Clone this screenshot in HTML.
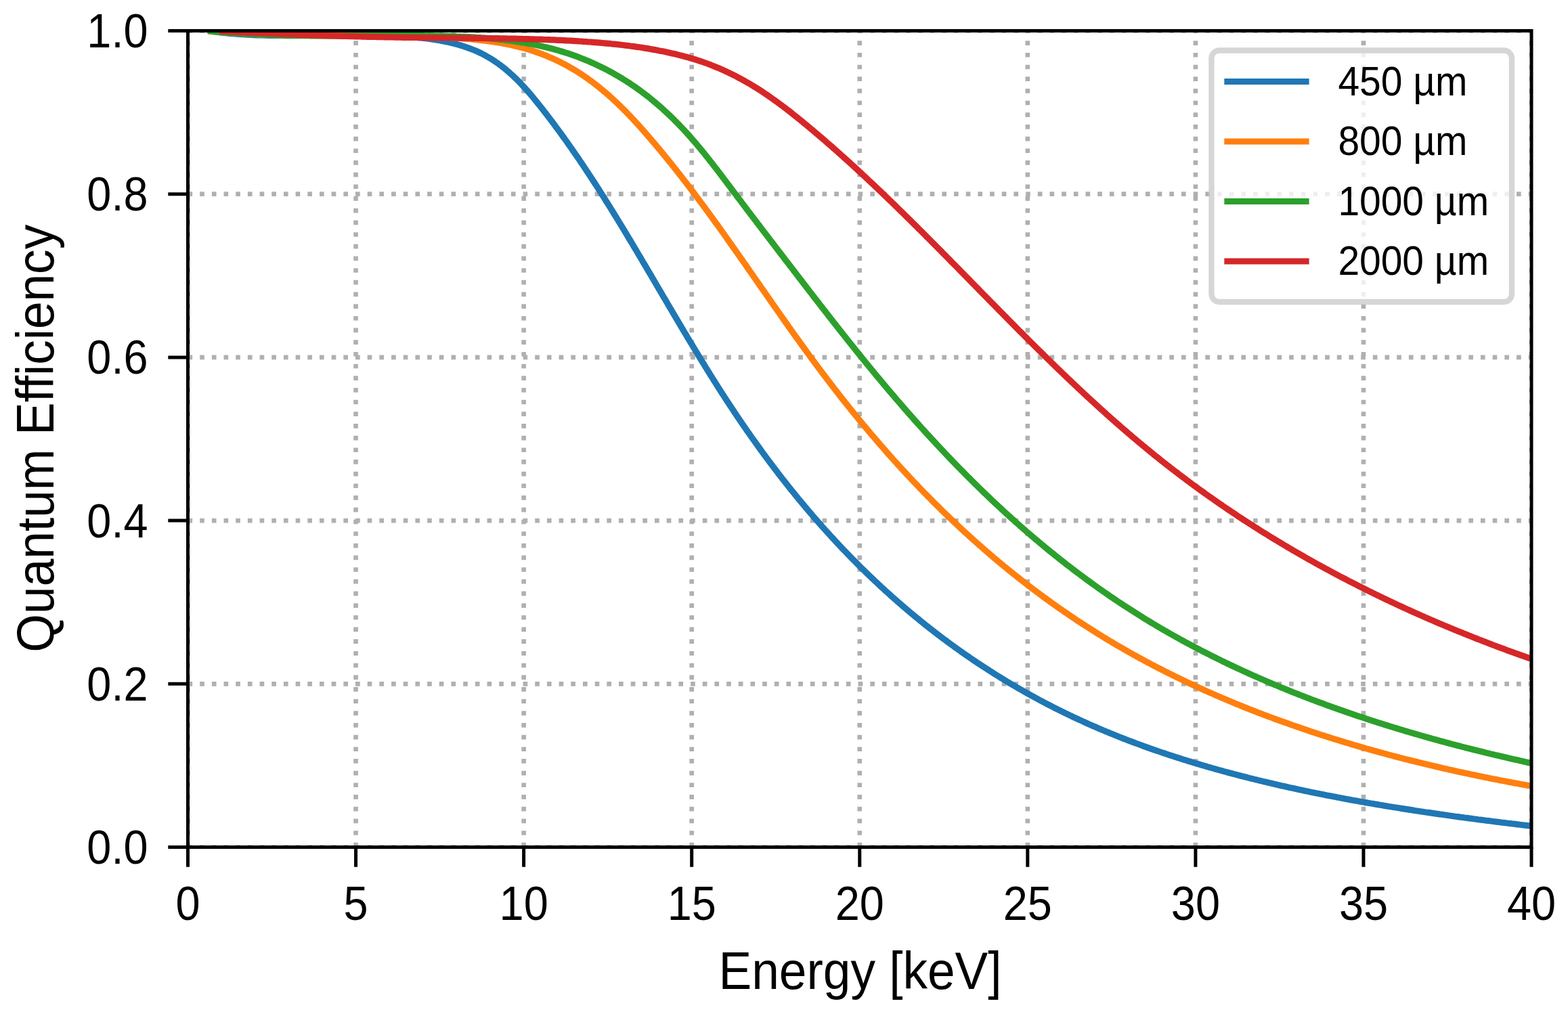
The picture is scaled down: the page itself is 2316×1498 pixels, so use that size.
<!DOCTYPE html><html><head><meta charset="utf-8"><title>Quantum Efficiency</title><style>html,body{margin:0;padding:0;background:#fff;overflow:hidden}svg{display:block}text{font-family:'Liberation Sans', Arial, Helvetica, sans-serif;fill:#000}</style></head><body>
<svg xmlns="http://www.w3.org/2000/svg" width="2316" height="1498" viewBox="0 0 2316 1498">
<rect x="0" y="0" width="2316" height="1498" fill="#fff"/>
<defs><clipPath id="ax"><rect x="277.5" y="45.5" width="1984.5" height="1206.0"/></clipPath></defs>
<g clip-path="url(#ax)"><path d="M277.50 1251.50V45.50M525.56 1251.50V45.50M773.62 1251.50V45.50M1021.69 1251.50V45.50M1269.75 1251.50V45.50M1517.81 1251.50V45.50M1765.88 1251.50V45.50M2013.94 1251.50V45.50M2262.00 1251.50V45.50M277.50 1251.50H2262.00M277.50 1010.30H2262.00M277.50 769.10H2262.00M277.50 527.90H2262.00M277.50 286.70H2262.00M277.50 45.50H2262.00" fill="none" stroke="#b0b0b0" stroke-width="6.67" stroke-dasharray="6.67 11.01"/></g>
<g clip-path="url(#ax)" fill="none" stroke-width="9.20" stroke-linecap="square" stroke-linejoin="round">
<path d="M311.6 46.1L315.0 46.6L318.3 47.0L321.7 47.5L325.1 47.9L328.5 48.3L332.0 48.6L335.4 49.0L338.9 49.3L342.4 49.6L346.0 49.9L349.5 50.2L353.1 50.5L356.7 50.7L360.3 50.9L363.9 51.1L367.5 51.3L371.2 51.5L374.8 51.6L378.5 51.8L382.2 51.9L385.9 52.0L389.6 52.1L393.3 52.2L397.1 52.3L400.8 52.4L404.6 52.4L408.4 52.5L412.1 52.5L415.9 52.5L419.7 52.6L423.5 52.6L427.3 52.6L431.2 52.6L435.0 52.6L438.8 52.6L442.7 52.5L446.5 52.5L450.4 52.5L454.2 52.5L458.1 52.4L461.9 52.4L465.8 52.4L469.6 52.3L473.5 52.3L477.4 52.2L481.2 52.2L485.1 52.1L488.9 52.1L492.8 52.1L496.6 52.0L500.5 52.0L504.3 52.0L508.2 52.0L512.0 51.9L515.9 51.9L519.7 51.9L523.5 51.9L527.3 51.9L531.1 51.9L534.9 51.9L538.7 52.0L542.5 52.0L546.3 52.0L550.1 52.1L553.8 52.2L557.6 52.2L561.3 52.3L565.0 52.4L568.7 52.5L572.4 52.6L576.1 52.8L579.8 52.9L583.4 53.1L587.1 53.3L590.7 53.5L594.3 53.7L597.9 53.9L601.5 54.2L605.0 54.4L608.6 54.7L612.1 55.0L615.6 55.3L619.0 55.7L622.5 56.0L625.9 56.4L629.3 56.8L632.7 57.3L636.1 57.7L639.4 58.2L642.7 58.7L646.0 59.3L649.3 59.8L652.5 60.4L655.7 61.0L658.9 61.7L662.0 62.3L665.2 63.0L668.3 63.8L671.3 64.5L674.3 65.3L677.3 66.1L680.3 67.0L683.2 67.9L686.1 68.8L689.0 69.8L691.8 70.8L694.6 71.8L697.3 72.9L700.1 74.0L702.7 75.1L705.4 76.3L708.0 77.5L710.6 78.7L713.1 80.0L715.6 81.3L718.1 82.7L720.5 84.1L722.9 85.5L725.3 86.9L727.6 88.4L729.9 89.9L732.2 91.5L734.5 93.0L736.7 94.6L738.9 96.2L741.1 97.9L743.2 99.5L745.4 101.2L747.5 103.0L749.5 104.7L751.6 106.5L753.6 108.3L755.6 110.1L757.6 111.9L759.6 113.8L761.5 115.6L763.5 117.5L765.4 119.4L767.3 121.4L769.1 123.3L771.0 125.3L772.8 127.3L774.7 129.2L776.5 131.3L778.3 133.3L780.0 135.3L781.8 137.4L783.6 139.4L785.3 141.5L787.1 143.6L788.8 145.7L790.5 147.7L792.2 149.9L793.9 152.0L795.6 154.1L797.3 156.2L799.0 158.4L800.7 160.5L802.4 162.6L804.0 164.8L805.7 166.9L807.4 169.1L809.0 171.3L810.7 173.4L812.3 175.6L814.0 177.8L815.6 179.9L817.3 182.1L818.9 184.3L820.5 186.5L822.1 188.7L823.8 190.9L825.4 193.1L827.0 195.3L828.6 197.5L830.2 199.7L831.8 202.0L833.4 204.2L835.0 206.4L836.6 208.6L838.2 210.9L839.7 213.1L841.3 215.4L842.9 217.6L844.5 219.9L846.0 222.1L847.6 224.4L849.1 226.6L850.7 228.9L852.3 231.2L853.8 233.4L855.4 235.7L856.9 238.0L858.4 240.3L860.0 242.5L861.5 244.8L863.0 247.1L864.6 249.4L866.1 251.7L867.6 254.0L869.1 256.3L870.6 258.6L872.2 260.9L873.7 263.2L875.2 265.5L876.7 267.8L878.2 270.2L879.7 272.5L881.2 274.8L882.7 277.1L884.2 279.5L885.7 281.8L887.1 284.1L888.6 286.5L890.1 288.8L891.6 291.1L893.1 293.5L894.5 295.8L896.0 298.2L897.5 300.5L899.0 302.9L900.4 305.2L901.9 307.6L903.3 309.9L904.8 312.3L906.3 314.7L907.7 317.0L909.2 319.4L910.6 321.7L912.1 324.1L913.5 326.5L915.0 328.9L916.4 331.2L917.9 333.6L919.3 336.0L920.8 338.4L922.2 340.7L923.6 343.1L925.1 345.5L926.5 347.9L927.9 350.3L929.4 352.7L930.8 355.0L932.2 357.4L933.7 359.8L935.1 362.2L936.5 364.6L937.9 367.0L939.4 369.4L940.8 371.8L942.2 374.2L943.6 376.6L945.1 379.0L946.5 381.4L947.9 383.8L949.3 386.2L950.7 388.6L952.2 391.0L953.6 393.4L955.0 395.8L956.4 398.2L957.8 400.6L959.2 403.0L960.7 405.4L962.1 407.8L963.5 410.2L964.9 412.6L966.3 415.0L967.7 417.4L969.1 419.8L970.6 422.3L972.0 424.7L973.4 427.1L974.8 429.5L976.2 431.9L977.6 434.3L979.0 436.7L980.4 439.1L981.9 441.5L983.3 443.9L984.7 446.3L986.1 448.7L987.5 451.1L988.9 453.5L990.3 455.9L991.8 458.3L993.2 460.7L994.6 463.1L996.0 465.5L997.4 467.9L998.8 470.3L1000.3 472.7L1001.7 475.1L1003.1 477.5L1004.5 479.9L1005.9 482.3L1007.4 484.7L1008.8 487.1L1010.2 489.5L1011.6 491.9L1013.1 494.3L1014.5 496.7L1015.9 499.1L1017.4 501.5L1018.8 503.9L1020.2 506.3L1021.7 508.6L1023.1 511.0L1024.5 513.4L1026.0 515.8L1027.4 518.2L1028.9 520.5L1030.3 522.9L1031.7 525.3L1033.2 527.7L1034.6 530.0L1036.1 532.4L1037.5 534.8L1039.0 537.1L1040.5 539.5L1041.9 541.9L1043.4 544.2L1044.8 546.6L1046.3 548.9L1047.8 551.3L1049.2 553.7L1050.7 556.0L1052.2 558.4L1053.6 560.7L1055.1 563.0L1056.6 565.4L1058.1 567.7L1059.6 570.1L1061.0 572.4L1062.5 574.7L1064.0 577.1L1065.5 579.4L1067.0 581.7L1068.5 584.0L1070.0 586.4L1071.5 588.7L1073.0 591.0L1074.5 593.3L1076.0 595.6L1077.5 597.9L1079.1 600.2L1080.6 602.5L1082.1 604.8L1083.6 607.1L1085.1 609.4L1086.7 611.7L1088.2 614.0L1089.7 616.3L1091.3 618.5L1092.8 620.8L1094.4 623.1L1095.9 625.4L1097.5 627.6L1099.0 629.9L1100.6 632.1L1102.2 634.4L1103.7 636.7L1105.3 638.9L1106.9 641.2L1108.4 643.4L1110.0 645.6L1111.6 647.9L1113.2 650.1L1114.8 652.3L1116.4 654.6L1118.0 656.8L1119.6 659.0L1121.2 661.2L1122.8 663.5L1124.4 665.7L1126.0 667.9L1127.6 670.1L1129.2 672.3L1130.8 674.5L1132.5 676.7L1134.1 678.9L1135.7 681.1L1137.3 683.2L1139.0 685.4L1140.6 687.6L1142.3 689.8L1143.9 692.0L1145.6 694.1L1147.2 696.3L1148.9 698.5L1150.5 700.6L1152.2 702.8L1153.9 704.9L1155.5 707.1L1157.2 709.2L1158.9 711.3L1160.6 713.5L1162.3 715.6L1164.0 717.8L1165.6 719.9L1167.3 722.0L1169.0 724.1L1170.7 726.2L1172.5 728.3L1174.2 730.5L1175.9 732.6L1177.6 734.7L1179.3 736.8L1181.0 738.9L1182.8 740.9L1184.5 743.0L1186.2 745.1L1188.0 747.2L1189.7 749.3L1191.5 751.3L1193.2 753.4L1195.0 755.5L1196.7 757.5L1198.5 759.6L1200.3 761.7L1202.0 763.7L1203.8 765.8L1205.6 767.8L1207.4 769.8L1209.1 771.9L1210.9 773.9L1212.7 775.9L1214.5 778.0L1216.3 780.0L1218.1 782.0L1219.9 784.0L1221.7 786.0L1223.6 788.0L1225.4 790.0L1227.2 792.0L1229.0 794.0L1230.9 796.0L1232.7 798.0L1234.5 800.0L1236.4 801.9L1238.2 803.9L1240.1 805.9L1241.9 807.8L1243.8 809.8L1245.6 811.8L1247.5 813.7L1249.4 815.7L1251.2 817.6L1253.1 819.6L1255.0 821.5L1256.9 823.4L1258.8 825.4L1260.7 827.3L1262.6 829.2L1264.5 831.1L1266.4 833.0L1268.3 834.9L1270.2 836.9L1272.1 838.8L1274.0 840.6L1276.0 842.5L1277.9 844.4L1279.8 846.3L1281.8 848.2L1283.7 850.1L1285.7 851.9L1287.6 853.8L1289.6 855.7L1291.5 857.5L1293.5 859.4L1295.5 861.2L1297.4 863.1L1299.4 864.9L1301.4 866.8L1303.4 868.6L1305.4 870.4L1307.4 872.3L1309.4 874.1L1311.4 875.9L1313.4 877.7L1315.4 879.5L1317.4 881.3L1319.4 883.1L1321.5 884.9L1323.5 886.7L1325.5 888.5L1327.6 890.3L1329.6 892.0L1331.7 893.8L1333.7 895.6L1335.8 897.3L1337.8 899.1L1339.9 900.9L1342.0 902.6L1344.0 904.4L1346.1 906.1L1348.2 907.8L1350.3 909.6L1352.4 911.3L1354.5 913.0L1356.6 914.7L1358.7 916.4L1360.8 918.2L1362.9 919.9L1365.0 921.6L1367.1 923.3L1369.3 925.0L1371.4 926.6L1373.5 928.3L1375.7 930.0L1377.8 931.7L1380.0 933.3L1382.1 935.0L1384.3 936.7L1386.5 938.3L1388.6 940.0L1390.8 941.6L1393.0 943.3L1395.2 944.9L1397.4 946.5L1399.5 948.1L1401.7 949.8L1403.9 951.4L1406.2 953.0L1408.4 954.6L1410.6 956.2L1412.8 957.8L1415.0 959.4L1417.3 961.0L1419.5 962.6L1421.7 964.1L1424.0 965.7L1426.2 967.3L1428.5 968.8L1430.8 970.4L1433.0 972.0L1435.3 973.5L1437.6 975.1L1439.9 976.6L1442.1 978.1L1444.4 979.7L1446.7 981.2L1449.0 982.7L1451.3 984.2L1453.6 985.7L1456.0 987.2L1458.3 988.7L1460.6 990.2L1462.9 991.7L1465.3 993.2L1467.6 994.7L1469.9 996.1L1472.3 997.6L1474.7 999.1L1477.0 1000.5L1479.4 1002.0L1481.8 1003.4L1484.1 1004.9L1486.5 1006.3L1488.9 1007.8L1491.3 1009.2L1493.7 1010.6L1496.1 1012.0L1498.5 1013.4L1500.9 1014.9L1503.3 1016.3L1505.7 1017.7L1508.2 1019.0L1510.6 1020.4L1513.0 1021.8L1515.5 1023.2L1517.9 1024.6L1520.4 1025.9L1522.8 1027.3L1525.3 1028.6L1527.8 1030.0L1530.2 1031.3L1532.7 1032.7L1535.2 1034.0L1537.7 1035.3L1540.2 1036.7L1542.7 1038.0L1545.2 1039.3L1547.7 1040.6L1550.2 1041.9L1552.8 1043.2L1555.3 1044.5L1557.8 1045.8L1560.4 1047.1L1562.9 1048.3L1565.5 1049.6L1568.0 1050.9L1570.6 1052.1L1573.1 1053.4L1575.7 1054.6L1578.3 1055.9L1580.9 1057.1L1583.5 1058.3L1586.0 1059.6L1588.6 1060.8L1591.3 1062.0L1593.9 1063.2L1596.5 1064.4L1599.1 1065.6L1601.7 1066.8L1604.4 1068.0L1607.0 1069.2L1609.6 1070.4L1612.3 1071.5L1614.9 1072.7L1617.6 1073.8L1620.3 1075.0L1622.9 1076.2L1625.6 1077.3L1628.3 1078.4L1631.0 1079.6L1633.7 1080.7L1636.4 1081.8L1639.1 1082.9L1641.8 1084.0L1644.5 1085.1L1647.2 1086.2L1650.0 1087.3L1652.7 1088.4L1655.4 1089.5L1658.2 1090.6L1660.9 1091.6L1663.7 1092.7L1666.4 1093.8L1669.2 1094.8L1672.0 1095.9L1674.7 1096.9L1677.5 1098.0L1680.3 1099.0L1683.1 1100.0L1685.9 1101.0L1688.7 1102.1L1691.5 1103.1L1694.3 1104.1L1697.1 1105.1L1700.0 1106.1L1702.8 1107.1L1705.6 1108.1L1708.5 1109.0L1711.3 1110.0L1714.1 1111.0L1717.0 1112.0L1719.9 1112.9L1722.7 1113.9L1725.6 1114.8L1728.5 1115.8L1731.3 1116.7L1734.2 1117.7L1737.1 1118.6L1740.0 1119.5L1742.9 1120.4L1745.8 1121.4L1748.7 1122.3L1751.6 1123.2L1754.5 1124.1L1757.4 1125.0L1760.4 1125.9L1763.3 1126.8L1766.2 1127.7L1769.2 1128.5L1772.1 1129.4L1775.1 1130.3L1778.0 1131.1L1781.0 1132.0L1783.9 1132.9L1786.9 1133.7L1789.9 1134.6L1792.9 1135.4L1795.8 1136.3L1798.8 1137.1L1801.8 1137.9L1804.8 1138.7L1807.8 1139.6L1810.8 1140.4L1813.8 1141.2L1816.8 1142.0L1819.8 1142.8L1822.9 1143.6L1825.9 1144.4L1828.9 1145.2L1831.9 1146.0L1835.0 1146.8L1838.0 1147.5L1841.1 1148.3L1844.1 1149.1L1847.2 1149.9L1850.2 1150.6L1853.3 1151.4L1856.3 1152.1L1859.4 1152.9L1862.5 1153.6L1865.6 1154.4L1868.6 1155.1L1871.7 1155.8L1874.8 1156.6L1877.9 1157.3L1881.0 1158.0L1884.1 1158.7L1887.2 1159.5L1890.3 1160.2L1893.4 1160.9L1896.6 1161.6L1899.7 1162.3L1902.8 1163.0L1905.9 1163.7L1909.1 1164.3L1912.2 1165.0L1915.3 1165.7L1918.5 1166.4L1921.6 1167.1L1924.8 1167.7L1927.9 1168.4L1931.1 1169.1L1934.2 1169.7L1937.4 1170.4L1940.6 1171.0L1943.8 1171.7L1946.9 1172.3L1950.1 1173.0L1953.3 1173.6L1956.5 1174.2L1959.7 1174.9L1962.9 1175.5L1966.1 1176.1L1969.3 1176.7L1972.5 1177.3L1975.7 1178.0L1978.9 1178.6L1982.1 1179.2L1985.3 1179.8L1988.5 1180.4L1991.7 1181.0L1995.0 1181.6L1998.2 1182.2L2001.4 1182.7L2004.7 1183.3L2007.9 1183.9L2011.2 1184.5L2014.4 1185.1L2017.6 1185.6L2020.9 1186.2L2024.1 1186.8L2027.4 1187.3L2030.7 1187.9L2033.9 1188.4L2037.2 1189.0L2040.5 1189.5L2043.7 1190.1L2047.0 1190.6L2050.3 1191.2L2053.6 1191.7L2056.9 1192.2L2060.1 1192.8L2063.4 1193.3L2066.7 1193.8L2070.0 1194.4L2073.3 1194.9L2076.6 1195.4L2079.9 1195.9L2083.2 1196.4L2086.5 1196.9L2089.9 1197.5L2093.2 1198.0L2096.5 1198.5L2099.8 1199.0L2103.1 1199.5L2106.4 1200.0L2109.8 1200.4L2113.1 1200.9L2116.4 1201.4L2119.8 1201.9L2123.1 1202.4L2126.4 1202.9L2129.8 1203.3L2133.1 1203.8L2136.5 1204.3L2139.8 1204.8L2143.2 1205.2L2146.5 1205.7L2149.9 1206.2L2153.3 1206.6L2156.6 1207.1L2160.0 1207.5L2163.3 1208.0L2166.7 1208.4L2170.1 1208.9L2173.5 1209.3L2176.8 1209.8L2180.2 1210.2L2183.6 1210.7L2187.0 1211.1L2190.3 1211.5L2193.7 1212.0L2197.1 1212.4L2200.5 1212.8L2203.9 1213.3L2207.3 1213.7L2210.7 1214.1L2214.1 1214.5L2217.5 1215.0L2220.9 1215.4L2224.3 1215.8L2227.7 1216.2L2231.1 1216.6L2234.5 1217.0L2237.9 1217.4L2241.3 1217.9L2244.7 1218.3L2248.2 1218.7L2251.6 1219.1L2255.0 1219.5L2258.4 1219.9L2261.8 1220.3" stroke="#1f77b4"/>
<path d="M311.6 46.1L315.1 46.4L318.6 46.8L322.2 47.1L325.7 47.4L329.3 47.7L332.9 47.9L336.5 48.2L340.1 48.5L343.7 48.7L347.3 48.9L350.9 49.2L354.6 49.4L358.2 49.6L361.9 49.8L365.6 50.0L369.2 50.2L372.9 50.3L376.6 50.5L380.3 50.7L384.0 50.8L387.7 51.0L391.5 51.1L395.2 51.2L398.9 51.3L402.7 51.4L406.4 51.5L410.2 51.6L413.9 51.7L417.7 51.8L421.5 51.9L425.3 52.0L429.0 52.1L432.8 52.1L436.6 52.2L440.4 52.2L444.2 52.3L448.0 52.3L451.8 52.4L455.7 52.4L459.5 52.5L463.3 52.5L467.1 52.5L471.0 52.6L474.8 52.6L478.6 52.6L482.4 52.6L486.3 52.7L490.1 52.7L494.0 52.7L497.8 52.7L501.6 52.7L505.5 52.7L509.3 52.8L513.2 52.8L517.0 52.8L520.9 52.8L524.7 52.8L528.5 52.8L532.4 52.8L536.2 52.9L540.1 52.9L543.9 52.9L547.7 52.9L551.6 52.9L555.4 53.0L559.2 53.0L563.1 53.0L566.9 53.0L570.7 53.1L574.5 53.1L578.4 53.1L582.2 53.2L586.0 53.2L589.8 53.3L593.6 53.3L597.4 53.4L601.2 53.5L605.0 53.5L608.7 53.6L612.5 53.7L616.3 53.8L620.1 53.9L623.8 54.0L627.6 54.1L631.3 54.2L635.0 54.3L638.8 54.4L642.5 54.6L646.2 54.7L649.9 54.9L653.6 55.0L657.3 55.2L660.9 55.4L664.6 55.6L668.2 55.8L671.9 56.0L675.5 56.3L679.1 56.5L682.7 56.8L686.3 57.1L689.8 57.4L693.4 57.7L696.9 58.0L700.4 58.3L703.9 58.7L707.4 59.1L710.9 59.4L714.3 59.9L717.8 60.3L721.2 60.7L724.6 61.2L727.9 61.7L731.3 62.2L734.6 62.7L737.9 63.3L741.2 63.8L744.5 64.4L747.7 65.0L750.9 65.7L754.1 66.3L757.3 67.0L760.4 67.7L763.6 68.5L766.6 69.2L769.7 70.0L772.8 70.8L775.8 71.7L778.8 72.5L781.7 73.4L784.7 74.4L787.6 75.3L790.5 76.3L793.3 77.3L796.2 78.3L799.0 79.3L801.8 80.4L804.6 81.5L807.3 82.6L810.0 83.7L812.7 84.9L815.4 86.0L818.1 87.2L820.7 88.5L823.3 89.7L825.9 91.0L828.5 92.2L831.0 93.6L833.6 94.9L836.1 96.2L838.6 97.6L841.0 99.0L843.5 100.4L845.9 101.8L848.3 103.2L850.7 104.7L853.1 106.2L855.5 107.7L857.8 109.2L860.1 110.7L862.4 112.3L864.7 113.9L867.0 115.4L869.2 117.0L871.5 118.7L873.7 120.3L875.9 121.9L878.1 123.6L880.3 125.3L882.4 127.0L884.6 128.7L886.7 130.4L888.8 132.2L890.9 133.9L893.0 135.7L895.1 137.4L897.2 139.2L899.2 141.0L901.3 142.9L903.3 144.7L905.3 146.5L907.3 148.4L909.3 150.2L911.3 152.1L913.3 154.0L915.2 155.9L917.2 157.8L919.1 159.7L921.0 161.7L923.0 163.6L924.9 165.5L926.8 167.5L928.7 169.4L930.6 171.4L932.4 173.4L934.3 175.4L936.2 177.4L938.0 179.4L939.9 181.4L941.7 183.4L943.5 185.4L945.4 187.5L947.2 189.5L949.0 191.5L950.8 193.6L952.6 195.6L954.4 197.7L956.2 199.8L958.0 201.8L959.8 203.9L961.6 206.0L963.3 208.1L965.1 210.1L966.9 212.2L968.6 214.3L970.4 216.4L972.2 218.5L973.9 220.6L975.7 222.7L977.4 224.8L979.2 226.9L980.9 229.1L982.6 231.2L984.4 233.3L986.1 235.4L987.8 237.6L989.5 239.7L991.3 241.8L993.0 244.0L994.7 246.1L996.4 248.3L998.1 250.4L999.8 252.6L1001.5 254.7L1003.2 256.9L1004.9 259.1L1006.6 261.2L1008.2 263.4L1009.9 265.6L1011.6 267.8L1013.3 269.9L1015.0 272.1L1016.6 274.3L1018.3 276.5L1020.0 278.7L1021.6 280.9L1023.3 283.1L1025.0 285.3L1026.6 287.5L1028.3 289.7L1029.9 291.9L1031.6 294.1L1033.2 296.3L1034.8 298.5L1036.5 300.7L1038.1 302.9L1039.8 305.2L1041.4 307.4L1043.0 309.6L1044.7 311.8L1046.3 314.1L1047.9 316.3L1049.5 318.5L1051.2 320.8L1052.8 323.0L1054.4 325.2L1056.0 327.5L1057.6 329.7L1059.3 331.9L1060.9 334.2L1062.5 336.4L1064.1 338.7L1065.7 340.9L1067.3 343.2L1068.9 345.4L1070.5 347.7L1072.1 349.9L1073.7 352.2L1075.3 354.5L1076.9 356.7L1078.5 359.0L1080.1 361.2L1081.7 363.5L1083.3 365.8L1084.9 368.0L1086.5 370.3L1088.1 372.5L1089.7 374.8L1091.2 377.1L1092.8 379.3L1094.4 381.6L1096.0 383.9L1097.6 386.2L1099.2 388.4L1100.8 390.7L1102.4 393.0L1103.9 395.2L1105.5 397.5L1107.1 399.8L1108.7 402.1L1110.3 404.3L1111.9 406.6L1113.4 408.9L1115.0 411.2L1116.6 413.4L1118.2 415.7L1119.8 418.0L1121.3 420.3L1122.9 422.5L1124.5 424.8L1126.1 427.1L1127.7 429.3L1129.3 431.6L1130.8 433.9L1132.4 436.2L1134.0 438.4L1135.6 440.7L1137.2 443.0L1138.8 445.3L1140.3 447.5L1141.9 449.8L1143.5 452.1L1145.1 454.3L1146.7 456.6L1148.3 458.9L1149.9 461.1L1151.5 463.4L1153.1 465.7L1154.6 467.9L1156.2 470.2L1157.8 472.5L1159.4 474.7L1161.0 477.0L1162.6 479.2L1164.2 481.5L1165.8 483.8L1167.4 486.0L1169.0 488.3L1170.6 490.5L1172.2 492.8L1173.8 495.0L1175.4 497.3L1177.0 499.5L1178.7 501.8L1180.3 504.0L1181.9 506.3L1183.5 508.5L1185.1 510.7L1186.7 513.0L1188.3 515.2L1190.0 517.5L1191.6 519.7L1193.2 521.9L1194.8 524.1L1196.5 526.4L1198.1 528.6L1199.7 530.8L1201.4 533.0L1203.0 535.3L1204.7 537.5L1206.3 539.7L1207.9 541.9L1209.6 544.1L1211.2 546.3L1212.9 548.5L1214.5 550.7L1216.2 552.9L1217.9 555.1L1219.5 557.3L1221.2 559.5L1222.8 561.7L1224.5 563.9L1226.2 566.1L1227.9 568.3L1229.5 570.4L1231.2 572.6L1232.9 574.8L1234.6 577.0L1236.3 579.1L1238.0 581.3L1239.7 583.5L1241.3 585.6L1243.0 587.8L1244.7 589.9L1246.4 592.1L1248.2 594.2L1249.9 596.4L1251.6 598.5L1253.3 600.7L1255.0 602.8L1256.7 605.0L1258.4 607.1L1260.2 609.2L1261.9 611.3L1263.6 613.5L1265.4 615.6L1267.1 617.7L1268.8 619.8L1270.6 622.0L1272.3 624.1L1274.1 626.2L1275.8 628.3L1277.6 630.4L1279.3 632.5L1281.1 634.6L1282.8 636.7L1284.6 638.8L1286.4 640.9L1288.1 642.9L1289.9 645.0L1291.7 647.1L1293.5 649.2L1295.3 651.3L1297.0 653.3L1298.8 655.4L1300.6 657.5L1302.4 659.5L1304.2 661.6L1306.0 663.7L1307.8 665.7L1309.6 667.8L1311.4 669.8L1313.2 671.8L1315.0 673.9L1316.9 675.9L1318.7 678.0L1320.5 680.0L1322.3 682.0L1324.2 684.1L1326.0 686.1L1327.8 688.1L1329.7 690.1L1331.5 692.1L1333.4 694.1L1335.2 696.1L1337.1 698.2L1338.9 700.2L1340.8 702.1L1342.6 704.1L1344.5 706.1L1346.4 708.1L1348.2 710.1L1350.1 712.1L1352.0 714.1L1353.9 716.0L1355.8 718.0L1357.6 720.0L1359.5 722.0L1361.4 723.9L1363.3 725.9L1365.2 727.8L1367.1 729.8L1369.0 731.7L1371.0 733.7L1372.9 735.6L1374.8 737.6L1376.7 739.5L1378.6 741.4L1380.6 743.4L1382.5 745.3L1384.4 747.2L1386.4 749.1L1388.3 751.0L1390.2 752.9L1392.2 754.9L1394.1 756.8L1396.1 758.7L1398.1 760.6L1400.0 762.4L1402.0 764.3L1404.0 766.2L1405.9 768.1L1407.9 770.0L1409.9 771.9L1411.9 773.7L1413.9 775.6L1415.9 777.5L1417.8 779.3L1419.8 781.2L1421.8 783.0L1423.8 784.9L1425.9 786.7L1427.9 788.6L1429.9 790.4L1431.9 792.3L1433.9 794.1L1436.0 795.9L1438.0 797.8L1440.0 799.6L1442.1 801.4L1444.1 803.2L1446.1 805.0L1448.2 806.8L1450.3 808.6L1452.3 810.4L1454.4 812.2L1456.4 814.0L1458.5 815.8L1460.6 817.6L1462.7 819.4L1464.7 821.1L1466.8 822.9L1468.9 824.7L1471.0 826.5L1473.1 828.2L1475.2 830.0L1477.3 831.7L1479.4 833.5L1481.5 835.2L1483.6 837.0L1485.7 838.7L1487.9 840.4L1490.0 842.2L1492.1 843.9L1494.3 845.6L1496.4 847.3L1498.5 849.0L1500.7 850.8L1502.8 852.5L1505.0 854.2L1507.1 855.9L1509.3 857.6L1511.5 859.2L1513.6 860.9L1515.8 862.6L1518.0 864.3L1520.2 866.0L1522.4 867.6L1524.6 869.3L1526.8 871.0L1529.0 872.6L1531.2 874.3L1533.4 875.9L1535.6 877.6L1537.8 879.2L1540.0 880.8L1542.2 882.5L1544.5 884.1L1546.7 885.7L1548.9 887.3L1551.2 889.0L1553.4 890.6L1555.7 892.2L1557.9 893.8L1560.2 895.4L1562.4 897.0L1564.7 898.6L1567.0 900.1L1569.3 901.7L1571.5 903.3L1573.8 904.9L1576.1 906.4L1578.4 908.0L1580.7 909.6L1583.0 911.1L1585.3 912.7L1587.6 914.2L1589.9 915.8L1592.2 917.3L1594.6 918.8L1596.9 920.4L1599.2 921.9L1601.6 923.4L1603.9 924.9L1606.3 926.4L1608.6 927.9L1611.0 929.4L1613.3 930.9L1615.7 932.4L1618.0 933.9L1620.4 935.4L1622.8 936.9L1625.2 938.4L1627.6 939.8L1630.0 941.3L1632.4 942.8L1634.8 944.2L1637.2 945.7L1639.6 947.1L1642.0 948.5L1644.4 950.0L1646.8 951.4L1649.2 952.9L1651.7 954.3L1654.1 955.7L1656.6 957.1L1659.0 958.5L1661.5 959.9L1663.9 961.3L1666.4 962.7L1668.8 964.1L1671.3 965.5L1673.8 966.9L1676.3 968.3L1678.7 969.6L1681.2 971.0L1683.7 972.4L1686.2 973.7L1688.7 975.1L1691.2 976.4L1693.7 977.8L1696.3 979.1L1698.8 980.5L1701.3 981.8L1703.8 983.1L1706.4 984.4L1708.9 985.8L1711.4 987.1L1714.0 988.4L1716.5 989.7L1719.1 991.0L1721.7 992.3L1724.2 993.6L1726.8 994.9L1729.4 996.1L1731.9 997.4L1734.5 998.7L1737.1 1000.0L1739.7 1001.2L1742.3 1002.5L1744.9 1003.7L1747.5 1005.0L1750.1 1006.2L1752.7 1007.5L1755.3 1008.7L1758.0 1010.0L1760.6 1011.2L1763.2 1012.4L1765.9 1013.6L1768.5 1014.8L1771.1 1016.1L1773.8 1017.3L1776.4 1018.5L1779.1 1019.7L1781.8 1020.9L1784.4 1022.1L1787.1 1023.2L1789.8 1024.4L1792.5 1025.6L1795.1 1026.8L1797.8 1027.9L1800.5 1029.1L1803.2 1030.3L1805.9 1031.4L1808.6 1032.6L1811.3 1033.7L1814.0 1034.9L1816.8 1036.0L1819.5 1037.1L1822.2 1038.3L1824.9 1039.4L1827.7 1040.5L1830.4 1041.6L1833.1 1042.8L1835.9 1043.9L1838.6 1045.0L1841.4 1046.1L1844.2 1047.2L1846.9 1048.3L1849.7 1049.3L1852.5 1050.4L1855.2 1051.5L1858.0 1052.6L1860.8 1053.7L1863.6 1054.7L1866.4 1055.8L1869.2 1056.8L1872.0 1057.9L1874.8 1059.0L1877.6 1060.0L1880.4 1061.0L1883.2 1062.1L1886.1 1063.1L1888.9 1064.1L1891.7 1065.2L1894.5 1066.2L1897.4 1067.2L1900.2 1068.2L1903.1 1069.2L1905.9 1070.2L1908.8 1071.3L1911.6 1072.2L1914.5 1073.2L1917.4 1074.2L1920.2 1075.2L1923.1 1076.2L1926.0 1077.2L1928.9 1078.2L1931.7 1079.1L1934.6 1080.1L1937.5 1081.1L1940.4 1082.0L1943.3 1083.0L1946.2 1083.9L1949.1 1084.9L1952.1 1085.8L1955.0 1086.7L1957.9 1087.7L1960.8 1088.6L1963.7 1089.5L1966.7 1090.5L1969.6 1091.4L1972.6 1092.3L1975.5 1093.2L1978.5 1094.1L1981.4 1095.0L1984.4 1095.9L1987.3 1096.8L1990.3 1097.7L1993.3 1098.6L1996.2 1099.5L1999.2 1100.4L2002.2 1101.2L2005.2 1102.1L2008.2 1103.0L2011.1 1103.8L2014.1 1104.7L2017.1 1105.6L2020.1 1106.4L2023.1 1107.3L2026.2 1108.1L2029.2 1109.0L2032.2 1109.8L2035.2 1110.6L2038.2 1111.5L2041.3 1112.3L2044.3 1113.1L2047.3 1113.9L2050.4 1114.8L2053.4 1115.6L2056.5 1116.4L2059.5 1117.2L2062.6 1118.0L2065.6 1118.8L2068.7 1119.6L2071.7 1120.4L2074.8 1121.2L2077.9 1121.9L2081.0 1122.7L2084.0 1123.5L2087.1 1124.3L2090.2 1125.0L2093.3 1125.8L2096.4 1126.6L2099.5 1127.3L2102.6 1128.1L2105.7 1128.8L2108.8 1129.6L2111.9 1130.3L2115.0 1131.1L2118.2 1131.8L2121.3 1132.5L2124.4 1133.3L2127.6 1134.0L2130.7 1134.7L2133.8 1135.4L2137.0 1136.1L2140.1 1136.9L2143.3 1137.6L2146.4 1138.3L2149.6 1139.0L2152.7 1139.7L2155.9 1140.4L2159.0 1141.0L2162.2 1141.7L2165.4 1142.4L2168.6 1143.1L2171.7 1143.8L2174.9 1144.4L2178.1 1145.1L2181.3 1145.8L2184.5 1146.4L2187.7 1147.1L2190.9 1147.8L2194.1 1148.4L2197.3 1149.1L2200.5 1149.7L2203.7 1150.4L2206.9 1151.0L2210.2 1151.6L2213.4 1152.3L2216.6 1152.9L2219.9 1153.5L2223.1 1154.1L2226.3 1154.8L2229.6 1155.4L2232.8 1156.0L2236.1 1156.6L2239.3 1157.2L2242.6 1157.8L2245.8 1158.4L2249.1 1159.0L2252.3 1159.6L2255.6 1160.2L2258.9 1160.8L2262.2 1161.3" stroke="#ff7f0e"/>
<path d="M311.7 46.0L315.2 46.4L318.7 46.7L322.3 47.0L325.9 47.3L329.4 47.6L333.0 47.8L336.6 48.1L340.2 48.4L343.8 48.6L347.4 48.9L351.0 49.1L354.7 49.3L358.3 49.5L362.0 49.7L365.6 49.9L369.3 50.1L373.0 50.3L376.6 50.5L380.3 50.7L384.0 50.8L387.7 51.0L391.4 51.1L395.1 51.3L398.9 51.4L402.6 51.6L406.3 51.7L410.1 51.8L413.8 51.9L417.6 52.0L421.3 52.1L425.1 52.2L428.9 52.3L432.6 52.4L436.4 52.4L440.2 52.5L444.0 52.6L447.8 52.6L451.6 52.7L455.4 52.7L459.2 52.8L463.0 52.8L466.9 52.8L470.7 52.9L474.5 52.9L478.4 52.9L482.2 52.9L486.0 53.0L489.9 53.0L493.7 53.0L497.6 53.0L501.5 53.0L505.3 53.0L509.2 53.0L513.1 52.9L516.9 52.9L520.8 52.9L524.7 52.9L528.6 52.9L532.4 52.8L536.3 52.8L540.2 52.8L544.1 52.8L548.0 52.8L551.8 52.7L555.7 52.7L559.6 52.7L563.5 52.7L567.4 52.6L571.2 52.6L575.1 52.6L579.0 52.6L582.8 52.6L586.7 52.6L590.6 52.6L594.4 52.6L598.3 52.6L602.1 52.6L606.0 52.6L609.8 52.6L613.7 52.6L617.5 52.6L621.3 52.7L625.1 52.7L629.0 52.8L632.8 52.8L636.6 52.9L640.4 52.9L644.2 53.0L647.9 53.1L651.7 53.2L655.5 53.3L659.2 53.4L663.0 53.5L666.7 53.6L670.4 53.7L674.1 53.9L677.9 54.0L681.5 54.2L685.2 54.3L688.9 54.5L692.6 54.7L696.2 54.9L699.9 55.1L703.5 55.4L707.1 55.6L710.7 55.9L714.3 56.1L717.9 56.4L721.4 56.7L725.0 57.0L728.5 57.3L732.0 57.7L735.5 58.0L739.0 58.4L742.5 58.8L746.0 59.2L749.4 59.6L752.8 60.0L756.2 60.5L759.6 60.9L763.0 61.4L766.4 61.9L769.7 62.4L773.0 63.0L776.3 63.5L779.6 64.1L782.9 64.7L786.1 65.3L789.4 65.9L792.6 66.6L795.7 67.3L798.9 68.0L802.1 68.7L805.2 69.4L808.3 70.2L811.4 70.9L814.4 71.7L817.5 72.5L820.5 73.4L823.5 74.2L826.5 75.1L829.5 76.0L832.4 76.9L835.4 77.8L838.3 78.7L841.2 79.7L844.0 80.7L846.9 81.7L849.7 82.7L852.6 83.7L855.4 84.8L858.1 85.9L860.9 87.0L863.7 88.1L866.4 89.2L869.1 90.3L871.8 91.5L874.5 92.7L877.2 93.9L879.8 95.1L882.4 96.3L885.0 97.6L887.6 98.8L890.2 100.1L892.8 101.4L895.3 102.7L897.9 104.0L900.4 105.4L902.9 106.7L905.4 108.1L907.8 109.5L910.3 110.9L912.7 112.3L915.1 113.7L917.6 115.2L919.9 116.7L922.3 118.1L924.7 119.6L927.0 121.1L929.4 122.7L931.7 124.2L934.0 125.8L936.3 127.3L938.6 128.9L940.8 130.5L943.1 132.1L945.3 133.7L947.5 135.4L949.7 137.0L951.9 138.7L954.1 140.3L956.3 142.0L958.4 143.7L960.6 145.4L962.7 147.2L964.8 148.9L966.9 150.7L969.0 152.4L971.1 154.2L973.2 156.0L975.2 157.8L977.3 159.6L979.3 161.4L981.3 163.3L983.3 165.1L985.3 167.0L987.3 168.8L989.3 170.7L991.3 172.6L993.2 174.5L995.2 176.4L997.1 178.4L999.0 180.3L1000.9 182.2L1002.8 184.2L1004.7 186.2L1006.6 188.1L1008.5 190.1L1010.4 192.1L1012.2 194.1L1014.1 196.1L1015.9 198.2L1017.7 200.2L1019.5 202.2L1021.3 204.3L1023.1 206.3L1024.9 208.4L1026.7 210.5L1028.5 212.6L1030.2 214.7L1032.0 216.8L1033.8 218.9L1035.5 221.0L1037.2 223.1L1039.0 225.2L1040.7 227.3L1042.4 229.5L1044.1 231.6L1045.8 233.8L1047.5 235.9L1049.2 238.1L1050.9 240.2L1052.6 242.4L1054.3 244.6L1056.0 246.8L1057.7 248.9L1059.4 251.1L1061.0 253.3L1062.7 255.5L1064.4 257.7L1066.0 259.9L1067.7 262.1L1069.3 264.3L1071.0 266.5L1072.7 268.7L1074.3 270.9L1076.0 273.1L1077.6 275.3L1079.3 277.5L1080.9 279.7L1082.6 281.9L1084.2 284.1L1085.9 286.3L1087.6 288.5L1089.2 290.7L1090.9 292.9L1092.5 295.1L1094.2 297.3L1095.8 299.5L1097.5 301.7L1099.2 303.9L1100.8 306.1L1102.5 308.3L1104.1 310.5L1105.8 312.7L1107.5 314.9L1109.1 317.1L1110.8 319.3L1112.5 321.4L1114.1 323.6L1115.8 325.8L1117.5 328.0L1119.1 330.2L1120.8 332.4L1122.5 334.6L1124.1 336.8L1125.8 339.0L1127.5 341.2L1129.1 343.3L1130.8 345.5L1132.5 347.7L1134.2 349.9L1135.8 352.1L1137.5 354.3L1139.2 356.5L1140.8 358.6L1142.5 360.8L1144.2 363.0L1145.9 365.2L1147.5 367.4L1149.2 369.6L1150.9 371.8L1152.5 373.9L1154.2 376.1L1155.9 378.3L1157.6 380.5L1159.2 382.7L1160.9 384.9L1162.6 387.0L1164.3 389.2L1165.9 391.4L1167.6 393.6L1169.3 395.8L1171.0 398.0L1172.6 400.1L1174.3 402.3L1176.0 404.5L1177.7 406.7L1179.3 408.9L1181.0 411.0L1182.7 413.2L1184.4 415.4L1186.0 417.6L1187.7 419.8L1189.4 422.0L1191.1 424.1L1192.7 426.3L1194.4 428.5L1196.1 430.7L1197.8 432.8L1199.5 435.0L1201.1 437.2L1202.8 439.4L1204.5 441.6L1206.2 443.7L1207.9 445.9L1209.6 448.1L1211.2 450.3L1212.9 452.4L1214.6 454.6L1216.3 456.8L1218.0 458.9L1219.7 461.1L1221.4 463.3L1223.0 465.4L1224.7 467.6L1226.4 469.8L1228.1 471.9L1229.8 474.1L1231.5 476.3L1233.2 478.4L1234.9 480.6L1236.6 482.8L1238.3 484.9L1240.0 487.1L1241.7 489.2L1243.4 491.4L1245.1 493.5L1246.8 495.7L1248.5 497.8L1250.2 500.0L1251.9 502.2L1253.6 504.3L1255.3 506.4L1257.1 508.6L1258.8 510.7L1260.5 512.9L1262.2 515.0L1263.9 517.2L1265.6 519.3L1267.4 521.4L1269.1 523.6L1270.8 525.7L1272.5 527.8L1274.2 530.0L1276.0 532.1L1277.7 534.2L1279.4 536.4L1281.2 538.5L1282.9 540.6L1284.6 542.7L1286.4 544.8L1288.1 547.0L1289.9 549.1L1291.6 551.2L1293.3 553.3L1295.1 555.4L1296.8 557.5L1298.6 559.6L1300.4 561.7L1302.1 563.8L1303.9 565.9L1305.6 568.0L1307.4 570.1L1309.1 572.2L1310.9 574.3L1312.7 576.4L1314.4 578.5L1316.2 580.6L1318.0 582.7L1319.8 584.7L1321.5 586.8L1323.3 588.9L1325.1 591.0L1326.9 593.0L1328.7 595.1L1330.5 597.2L1332.3 599.3L1334.0 601.3L1335.8 603.4L1337.6 605.4L1339.4 607.5L1341.2 609.6L1343.0 611.6L1344.8 613.7L1346.7 615.7L1348.5 617.8L1350.3 619.8L1352.1 621.8L1353.9 623.9L1355.7 625.9L1357.6 628.0L1359.4 630.0L1361.2 632.0L1363.0 634.0L1364.9 636.1L1366.7 638.1L1368.5 640.1L1370.4 642.1L1372.2 644.1L1374.1 646.2L1375.9 648.2L1377.8 650.2L1379.6 652.2L1381.5 654.2L1383.3 656.2L1385.2 658.2L1387.1 660.2L1388.9 662.2L1390.8 664.2L1392.7 666.1L1394.5 668.1L1396.4 670.1L1398.3 672.1L1400.2 674.1L1402.0 676.0L1403.9 678.0L1405.8 680.0L1407.7 681.9L1409.6 683.9L1411.5 685.9L1413.4 687.8L1415.3 689.8L1417.2 691.7L1419.1 693.7L1421.0 695.6L1423.0 697.6L1424.9 699.5L1426.8 701.4L1428.7 703.4L1430.6 705.3L1432.6 707.2L1434.5 709.2L1436.4 711.1L1438.4 713.0L1440.3 714.9L1442.3 716.8L1444.2 718.7L1446.2 720.7L1448.1 722.6L1450.1 724.5L1452.0 726.4L1454.0 728.3L1456.0 730.1L1457.9 732.0L1459.9 733.9L1461.9 735.8L1463.8 737.7L1465.8 739.6L1467.8 741.4L1469.8 743.3L1471.8 745.2L1473.8 747.0L1475.8 748.9L1477.8 750.7L1479.8 752.6L1481.8 754.5L1483.8 756.3L1485.8 758.1L1487.8 760.0L1489.9 761.8L1491.9 763.7L1493.9 765.5L1495.9 767.3L1498.0 769.1L1500.0 771.0L1502.0 772.8L1504.1 774.6L1506.1 776.4L1508.2 778.2L1510.2 780.0L1512.3 781.8L1514.4 783.6L1516.4 785.4L1518.5 787.2L1520.6 789.0L1522.6 790.7L1524.7 792.5L1526.8 794.3L1528.9 796.1L1531.0 797.8L1533.1 799.6L1535.2 801.4L1537.3 803.1L1539.4 804.9L1541.5 806.6L1543.6 808.4L1545.7 810.1L1547.8 811.8L1550.0 813.6L1552.1 815.3L1554.2 817.0L1556.4 818.7L1558.5 820.5L1560.6 822.2L1562.8 823.9L1564.9 825.6L1567.1 827.3L1569.3 829.0L1571.4 830.7L1573.6 832.4L1575.7 834.1L1577.9 835.8L1580.1 837.4L1582.3 839.1L1584.5 840.8L1586.7 842.5L1588.8 844.1L1591.0 845.8L1593.2 847.4L1595.5 849.1L1597.7 850.7L1599.9 852.4L1602.1 854.0L1604.3 855.7L1606.5 857.3L1608.8 858.9L1611.0 860.5L1613.2 862.2L1615.5 863.8L1617.7 865.4L1620.0 867.0L1622.2 868.6L1624.5 870.2L1626.8 871.8L1629.0 873.4L1631.3 875.0L1633.6 876.5L1635.9 878.1L1638.1 879.7L1640.4 881.3L1642.7 882.8L1645.0 884.4L1647.3 885.9L1649.6 887.5L1651.9 889.0L1654.3 890.6L1656.6 892.1L1658.9 893.6L1661.2 895.2L1663.6 896.7L1665.9 898.2L1668.3 899.7L1670.6 901.2L1673.0 902.7L1675.3 904.2L1677.7 905.7L1680.0 907.2L1682.4 908.7L1684.8 910.2L1687.2 911.7L1689.5 913.2L1691.9 914.6L1694.3 916.1L1696.7 917.5L1699.1 919.0L1701.5 920.5L1703.9 921.9L1706.4 923.3L1708.8 924.8L1711.2 926.2L1713.6 927.6L1716.1 929.1L1718.5 930.5L1720.9 931.9L1723.4 933.3L1725.9 934.7L1728.3 936.1L1730.8 937.5L1733.2 938.9L1735.7 940.3L1738.2 941.7L1740.7 943.0L1743.2 944.4L1745.6 945.8L1748.1 947.1L1750.6 948.5L1753.1 949.8L1755.6 951.2L1758.2 952.5L1760.7 953.9L1763.2 955.2L1765.7 956.6L1768.3 957.9L1770.8 959.2L1773.3 960.5L1775.9 961.8L1778.4 963.1L1781.0 964.4L1783.5 965.7L1786.1 967.0L1788.7 968.3L1791.2 969.6L1793.8 970.9L1796.4 972.2L1799.0 973.5L1801.5 974.7L1804.1 976.0L1806.7 977.3L1809.3 978.5L1811.9 979.8L1814.5 981.0L1817.2 982.3L1819.8 983.5L1822.4 984.7L1825.0 986.0L1827.7 987.2L1830.3 988.4L1832.9 989.6L1835.6 990.9L1838.2 992.1L1840.9 993.3L1843.5 994.5L1846.2 995.7L1848.8 996.9L1851.5 998.1L1854.2 999.2L1856.9 1000.4L1859.5 1001.6L1862.2 1002.8L1864.9 1003.9L1867.6 1005.1L1870.3 1006.3L1873.0 1007.4L1875.7 1008.6L1878.4 1009.7L1881.1 1010.9L1883.9 1012.0L1886.6 1013.1L1889.3 1014.3L1892.0 1015.4L1894.8 1016.5L1897.5 1017.6L1900.2 1018.8L1903.0 1019.9L1905.7 1021.0L1908.5 1022.1L1911.2 1023.2L1914.0 1024.3L1916.8 1025.4L1919.5 1026.5L1922.3 1027.5L1925.1 1028.6L1927.9 1029.7L1930.7 1030.8L1933.5 1031.8L1936.2 1032.9L1939.0 1034.0L1941.8 1035.0L1944.6 1036.1L1947.5 1037.1L1950.3 1038.2L1953.1 1039.2L1955.9 1040.2L1958.7 1041.3L1961.6 1042.3L1964.4 1043.3L1967.2 1044.4L1970.1 1045.4L1972.9 1046.4L1975.7 1047.4L1978.6 1048.4L1981.5 1049.4L1984.3 1050.4L1987.2 1051.4L1990.0 1052.4L1992.9 1053.4L1995.8 1054.4L1998.7 1055.4L2001.5 1056.3L2004.4 1057.3L2007.3 1058.3L2010.2 1059.2L2013.1 1060.2L2016.0 1061.2L2018.9 1062.1L2021.8 1063.1L2024.7 1064.0L2027.6 1065.0L2030.5 1065.9L2033.5 1066.8L2036.4 1067.8L2039.3 1068.7L2042.2 1069.6L2045.2 1070.6L2048.1 1071.5L2051.1 1072.4L2054.0 1073.3L2056.9 1074.2L2059.9 1075.1L2062.9 1076.0L2065.8 1076.9L2068.8 1077.8L2071.7 1078.7L2074.7 1079.6L2077.7 1080.5L2080.7 1081.4L2083.6 1082.2L2086.6 1083.1L2089.6 1084.0L2092.6 1084.8L2095.6 1085.7L2098.6 1086.6L2101.6 1087.4L2104.6 1088.3L2107.6 1089.1L2110.6 1090.0L2113.6 1090.8L2116.6 1091.7L2119.7 1092.5L2122.7 1093.3L2125.7 1094.2L2128.7 1095.0L2131.8 1095.8L2134.8 1096.6L2137.9 1097.5L2140.9 1098.3L2143.9 1099.1L2147.0 1099.9L2150.0 1100.7L2153.1 1101.5L2156.2 1102.3L2159.2 1103.1L2162.3 1103.9L2165.4 1104.7L2168.4 1105.4L2171.5 1106.2L2174.6 1107.0L2177.7 1107.8L2180.8 1108.6L2183.8 1109.3L2186.9 1110.1L2190.0 1110.8L2193.1 1111.6L2196.2 1112.4L2199.3 1113.1L2202.4 1113.9L2205.6 1114.6L2208.7 1115.4L2211.8 1116.1L2214.9 1116.8L2218.0 1117.6L2221.1 1118.3L2224.3 1119.0L2227.4 1119.8L2230.5 1120.5L2233.7 1121.2L2236.8 1121.9L2240.0 1122.6L2243.1 1123.3L2246.3 1124.1L2249.4 1124.8L2252.6 1125.5L2255.7 1126.2L2258.9 1126.9L2262.1 1127.5" stroke="#2ca02c"/>
<path d="M328.6 46.3L332.2 46.5L335.9 46.7L339.5 46.9L343.2 47.1L346.8 47.2L350.5 47.4L354.1 47.6L357.8 47.8L361.4 47.9L365.1 48.1L368.8 48.3L372.4 48.4L376.1 48.6L379.7 48.8L383.4 48.9L387.1 49.1L390.8 49.2L394.4 49.4L398.1 49.6L401.8 49.7L405.4 49.9L409.1 50.0L412.8 50.2L416.5 50.3L420.2 50.5L423.9 50.6L427.5 50.7L431.2 50.9L434.9 51.0L438.6 51.2L442.3 51.3L446.0 51.4L449.7 51.6L453.4 51.7L457.1 51.8L460.8 51.9L464.5 52.1L468.2 52.2L471.9 52.3L475.6 52.4L479.3 52.6L483.0 52.7L486.8 52.8L490.5 52.9L494.2 53.0L497.9 53.1L501.6 53.2L505.4 53.3L509.1 53.4L512.8 53.5L516.5 53.6L520.3 53.7L524.0 53.8L527.7 53.9L531.5 54.0L535.2 54.1L539.0 54.2L542.7 54.3L546.5 54.4L550.2 54.4L554.0 54.5L557.7 54.6L561.5 54.7L565.2 54.7L569.0 54.8L572.7 54.9L576.5 55.0L580.3 55.0L584.0 55.1L587.8 55.1L591.6 55.2L595.3 55.3L599.1 55.3L602.9 55.4L606.7 55.4L610.4 55.5L614.2 55.5L618.0 55.6L621.8 55.6L625.6 55.6L629.4 55.7L633.2 55.7L637.0 55.8L640.8 55.8L644.5 55.8L648.3 55.9L652.1 55.9L655.9 55.9L659.7 56.0L663.5 56.0L667.3 56.0L671.1 56.0L674.9 56.1L678.7 56.1L682.5 56.1L686.3 56.2L690.1 56.2L693.9 56.2L697.7 56.3L701.5 56.3L705.3 56.4L709.1 56.4L712.9 56.4L716.6 56.5L720.4 56.5L724.2 56.6L728.0 56.6L731.8 56.7L735.5 56.7L739.3 56.8L743.1 56.9L746.8 56.9L750.6 57.0L754.4 57.1L758.1 57.1L761.9 57.2L765.6 57.3L769.3 57.4L773.1 57.5L776.8 57.6L780.5 57.7L784.3 57.8L788.0 57.9L791.7 58.0L795.4 58.1L799.1 58.2L802.8 58.4L806.5 58.5L810.2 58.6L813.9 58.8L817.6 58.9L821.2 59.1L824.9 59.3L828.6 59.4L832.2 59.6L835.9 59.8L839.5 60.0L843.1 60.2L846.8 60.4L850.4 60.6L854.0 60.8L857.6 61.0L861.2 61.3L864.8 61.5L868.3 61.8L871.9 62.0L875.5 62.3L879.0 62.6L882.6 62.9L886.1 63.2L889.6 63.5L893.1 63.8L896.6 64.1L900.1 64.4L903.6 64.8L907.1 65.1L910.5 65.5L914.0 65.9L917.4 66.3L920.9 66.7L924.3 67.1L927.7 67.5L931.1 68.0L934.4 68.4L937.8 68.9L941.2 69.4L944.5 69.8L947.8 70.3L951.1 70.9L954.4 71.4L957.7 71.9L961.0 72.5L964.3 73.1L967.5 73.6L970.7 74.2L974.0 74.9L977.2 75.5L980.3 76.1L983.5 76.8L986.7 77.5L989.8 78.2L992.9 78.9L996.0 79.6L999.1 80.3L1002.2 81.1L1005.2 81.9L1008.3 82.6L1011.3 83.5L1014.3 84.3L1017.3 85.1L1020.3 86.0L1023.2 86.9L1026.2 87.7L1029.1 88.7L1032.0 89.6L1034.8 90.5L1037.7 91.5L1040.5 92.5L1043.4 93.5L1046.2 94.5L1048.9 95.6L1051.7 96.7L1054.4 97.7L1057.2 98.9L1059.9 100.0L1062.6 101.1L1065.2 102.3L1067.9 103.4L1070.5 104.6L1073.1 105.9L1075.8 107.1L1078.3 108.3L1080.9 109.6L1083.5 110.9L1086.0 112.1L1088.5 113.5L1091.0 114.8L1093.5 116.1L1096.0 117.5L1098.5 118.8L1100.9 120.2L1103.3 121.6L1105.8 123.0L1108.2 124.4L1110.6 125.9L1113.0 127.3L1115.3 128.8L1117.7 130.2L1120.0 131.7L1122.4 133.2L1124.7 134.7L1127.0 136.2L1129.3 137.8L1131.6 139.3L1133.9 140.9L1136.1 142.4L1138.4 144.0L1140.6 145.6L1142.9 147.2L1145.1 148.8L1147.3 150.4L1149.5 152.0L1151.7 153.6L1153.9 155.2L1156.1 156.9L1158.3 158.5L1160.5 160.2L1162.7 161.9L1164.8 163.5L1167.0 165.2L1169.1 166.9L1171.2 168.6L1173.4 170.3L1175.5 172.0L1177.6 173.7L1179.7 175.4L1181.9 177.1L1184.0 178.8L1186.1 180.6L1188.2 182.3L1190.3 184.0L1192.4 185.8L1194.4 187.5L1196.5 189.2L1198.6 191.0L1200.7 192.7L1202.8 194.5L1204.8 196.2L1206.9 198.0L1209.0 199.8L1211.0 201.5L1213.1 203.3L1215.2 205.1L1217.2 206.8L1219.3 208.6L1221.3 210.4L1223.4 212.2L1225.4 214.0L1227.5 215.7L1229.5 217.5L1231.5 219.3L1233.6 221.1L1235.6 222.9L1237.6 224.7L1239.7 226.5L1241.7 228.3L1243.7 230.1L1245.7 231.9L1247.7 233.8L1249.8 235.6L1251.8 237.4L1253.8 239.2L1255.8 241.0L1257.8 242.9L1259.8 244.7L1261.8 246.5L1263.8 248.3L1265.8 250.2L1267.8 252.0L1269.8 253.8L1271.8 255.7L1273.7 257.5L1275.7 259.4L1277.7 261.2L1279.7 263.1L1281.7 264.9L1283.6 266.8L1285.6 268.6L1287.6 270.5L1289.6 272.3L1291.5 274.2L1293.5 276.1L1295.5 277.9L1297.4 279.8L1299.4 281.7L1301.4 283.5L1303.3 285.4L1305.3 287.3L1307.2 289.1L1309.2 291.0L1311.1 292.9L1313.1 294.8L1315.0 296.7L1317.0 298.5L1318.9 300.4L1320.9 302.3L1322.8 304.2L1324.7 306.1L1326.7 308.0L1328.6 309.9L1330.5 311.8L1332.5 313.7L1334.4 315.6L1336.3 317.5L1338.3 319.4L1340.2 321.3L1342.1 323.2L1344.1 325.1L1346.0 327.0L1347.9 328.9L1349.8 330.8L1351.8 332.7L1353.7 334.6L1355.6 336.5L1357.5 338.4L1359.4 340.3L1361.3 342.2L1363.3 344.1L1365.2 346.1L1367.1 348.0L1369.0 349.9L1370.9 351.8L1372.8 353.7L1374.7 355.6L1376.6 357.6L1378.6 359.5L1380.5 361.4L1382.4 363.3L1384.3 365.3L1386.2 367.2L1388.1 369.1L1390.0 371.0L1391.9 373.0L1393.8 374.9L1395.7 376.8L1397.6 378.7L1399.5 380.7L1401.4 382.6L1403.3 384.5L1405.2 386.5L1407.1 388.4L1409.0 390.3L1410.9 392.2L1412.8 394.2L1414.7 396.1L1416.6 398.0L1418.5 400.0L1420.4 401.9L1422.3 403.8L1424.2 405.8L1426.1 407.7L1428.0 409.6L1429.9 411.6L1431.8 413.5L1433.6 415.4L1435.5 417.4L1437.4 419.3L1439.3 421.2L1441.2 423.2L1443.1 425.1L1445.0 427.0L1446.9 429.0L1448.8 430.9L1450.7 432.8L1452.6 434.8L1454.5 436.7L1456.4 438.6L1458.3 440.6L1460.2 442.5L1462.1 444.4L1464.0 446.4L1465.9 448.3L1467.8 450.2L1469.7 452.2L1471.6 454.1L1473.5 456.0L1475.4 458.0L1477.3 459.9L1479.2 461.8L1481.1 463.7L1483.0 465.7L1484.9 467.6L1486.8 469.5L1488.7 471.4L1490.6 473.4L1492.5 475.3L1494.4 477.2L1496.3 479.1L1498.2 481.1L1500.1 483.0L1502.0 484.9L1503.9 486.8L1505.8 488.8L1507.7 490.7L1509.7 492.6L1511.6 494.5L1513.5 496.4L1515.4 498.3L1517.3 500.2L1519.2 502.2L1521.1 504.1L1523.1 506.0L1525.0 507.9L1526.9 509.8L1528.8 511.7L1530.7 513.6L1532.7 515.5L1534.6 517.4L1536.5 519.3L1538.5 521.2L1540.4 523.1L1542.3 525.0L1544.2 526.9L1546.2 528.8L1548.1 530.7L1550.0 532.6L1552.0 534.5L1553.9 536.4L1555.9 538.3L1557.8 540.2L1559.7 542.1L1561.7 543.9L1563.6 545.8L1565.6 547.7L1567.5 549.6L1569.5 551.5L1571.4 553.3L1573.4 555.2L1575.3 557.1L1577.3 559.0L1579.3 560.8L1581.2 562.7L1583.2 564.6L1585.2 566.4L1587.1 568.3L1589.1 570.1L1591.1 572.0L1593.0 573.9L1595.0 575.7L1597.0 577.6L1599.0 579.4L1600.9 581.3L1602.9 583.1L1604.9 585.0L1606.9 586.8L1608.9 588.6L1610.9 590.5L1612.9 592.3L1614.9 594.1L1616.9 596.0L1618.9 597.8L1620.9 599.6L1622.9 601.5L1624.9 603.3L1626.9 605.1L1628.9 606.9L1630.9 608.7L1632.9 610.5L1634.9 612.4L1637.0 614.2L1639.0 616.0L1641.0 617.8L1643.0 619.6L1645.1 621.4L1647.1 623.2L1649.2 625.0L1651.2 626.7L1653.2 628.5L1655.3 630.3L1657.3 632.1L1659.4 633.9L1661.4 635.7L1663.5 637.4L1665.5 639.2L1667.6 641.0L1669.7 642.7L1671.7 644.5L1673.8 646.3L1675.9 648.0L1678.0 649.8L1680.0 651.5L1682.1 653.3L1684.2 655.0L1686.3 656.7L1688.4 658.5L1690.5 660.2L1692.6 661.9L1694.7 663.7L1696.8 665.4L1698.9 667.1L1701.0 668.8L1703.1 670.6L1705.2 672.3L1707.3 674.0L1709.5 675.7L1711.6 677.4L1713.7 679.1L1715.9 680.8L1718.0 682.5L1720.1 684.2L1722.3 685.8L1724.4 687.5L1726.6 689.2L1728.7 690.9L1730.9 692.6L1733.0 694.2L1735.2 695.9L1737.4 697.5L1739.6 699.2L1741.7 700.9L1743.9 702.5L1746.1 704.2L1748.3 705.8L1750.5 707.4L1752.6 709.1L1754.8 710.7L1757.0 712.4L1759.2 714.0L1761.4 715.6L1763.6 717.2L1765.9 718.8L1768.1 720.5L1770.3 722.1L1772.5 723.7L1774.7 725.3L1777.0 726.9L1779.2 728.5L1781.4 730.1L1783.7 731.7L1785.9 733.3L1788.2 734.8L1790.4 736.4L1792.7 738.0L1794.9 739.6L1797.2 741.1L1799.4 742.7L1801.7 744.3L1804.0 745.8L1806.2 747.4L1808.5 749.0L1810.8 750.5L1813.1 752.1L1815.3 753.6L1817.6 755.1L1819.9 756.7L1822.2 758.2L1824.5 759.7L1826.8 761.3L1829.1 762.8L1831.4 764.3L1833.7 765.8L1836.0 767.4L1838.4 768.9L1840.7 770.4L1843.0 771.9L1845.3 773.4L1847.7 774.9L1850.0 776.4L1852.3 777.9L1854.7 779.4L1857.0 780.8L1859.4 782.3L1861.7 783.8L1864.1 785.3L1866.4 786.8L1868.8 788.2L1871.2 789.7L1873.5 791.2L1875.9 792.6L1878.3 794.1L1880.6 795.5L1883.0 797.0L1885.4 798.4L1887.8 799.9L1890.2 801.3L1892.6 802.7L1895.0 804.2L1897.4 805.6L1899.8 807.0L1902.2 808.5L1904.6 809.9L1907.0 811.3L1909.4 812.7L1911.8 814.1L1914.2 815.5L1916.7 816.9L1919.1 818.3L1921.5 819.7L1924.0 821.1L1926.4 822.5L1928.8 823.9L1931.3 825.3L1933.7 826.7L1936.2 828.0L1938.6 829.4L1941.1 830.8L1943.6 832.2L1946.0 833.5L1948.5 834.9L1951.0 836.2L1953.4 837.6L1955.9 838.9L1958.4 840.3L1960.9 841.6L1963.4 843.0L1965.8 844.3L1968.3 845.7L1970.8 847.0L1973.3 848.3L1975.8 849.7L1978.3 851.0L1980.9 852.3L1983.4 853.6L1985.9 854.9L1988.4 856.2L1990.9 857.5L1993.4 858.9L1996.0 860.2L1998.5 861.4L2001.0 862.7L2003.6 864.0L2006.1 865.3L2008.7 866.6L2011.2 867.9L2013.8 869.2L2016.3 870.4L2018.9 871.7L2021.4 873.0L2024.0 874.3L2026.6 875.5L2029.1 876.8L2031.7 878.0L2034.3 879.3L2036.9 880.5L2039.4 881.8L2042.0 883.0L2044.6 884.3L2047.2 885.5L2049.8 886.7L2052.4 888.0L2055.0 889.2L2057.6 890.4L2060.2 891.6L2062.8 892.9L2065.4 894.1L2068.0 895.3L2070.7 896.5L2073.3 897.7L2075.9 898.9L2078.5 900.1L2081.2 901.3L2083.8 902.5L2086.5 903.7L2089.1 904.9L2091.7 906.1L2094.4 907.2L2097.0 908.4L2099.7 909.6L2102.4 910.8L2105.0 911.9L2107.7 913.1L2110.3 914.3L2113.0 915.4L2115.7 916.6L2118.4 917.7L2121.0 918.9L2123.7 920.0L2126.4 921.2L2129.1 922.3L2131.8 923.4L2134.5 924.6L2137.2 925.7L2139.9 926.8L2142.6 928.0L2145.3 929.1L2148.0 930.2L2150.7 931.3L2153.4 932.4L2156.2 933.5L2158.9 934.6L2161.6 935.7L2164.3 936.8L2167.1 937.9L2169.8 939.0L2172.5 940.1L2175.3 941.2L2178.0 942.3L2180.8 943.4L2183.5 944.5L2186.3 945.5L2189.0 946.6L2191.8 947.7L2194.6 948.7L2197.3 949.8L2200.1 950.9L2202.9 951.9L2205.6 953.0L2208.4 954.0L2211.2 955.1L2214.0 956.1L2216.8 957.2L2219.6 958.2L2222.4 959.2L2225.2 960.3L2228.0 961.3L2230.8 962.3L2233.6 963.3L2236.4 964.4L2239.2 965.4L2242.0 966.4L2244.8 967.4L2247.6 968.4L2250.5 969.4L2253.3 970.4L2256.1 971.4L2259.0 972.4L2261.8 973.4" stroke="#d62728"/>
</g>
<rect x="277.5" y="45.5" width="1984.5" height="1206.0" fill="none" stroke="#000" stroke-width="5"/>
<path d="M277.50 1251.50V1280.67M525.56 1251.50V1280.67M773.62 1251.50V1280.67M1021.69 1251.50V1280.67M1269.75 1251.50V1280.67M1517.81 1251.50V1280.67M1765.88 1251.50V1280.67M2013.94 1251.50V1280.67M2262.00 1251.50V1280.67M277.50 1251.50H248.33M277.50 1010.30H248.33M277.50 769.10H248.33M277.50 527.90H248.33M277.50 286.70H248.33M277.50 45.50H248.33" stroke="#000" stroke-width="5" fill="none"/>
<text transform="translate(218.53 1275.95) scale(0.973 1.046)" text-anchor="end" font-size="66.67">0.0</text>
<text transform="translate(218.53 1034.75) scale(0.973 1.046)" text-anchor="end" font-size="66.67">0.2</text>
<text transform="translate(218.53 793.55) scale(0.973 1.046)" text-anchor="end" font-size="66.67">0.4</text>
<text transform="translate(218.53 552.35) scale(0.973 1.046)" text-anchor="end" font-size="66.67">0.6</text>
<text transform="translate(218.53 311.15) scale(0.973 1.046)" text-anchor="end" font-size="66.67">0.8</text>
<text transform="translate(218.53 69.95) scale(0.973 1.046)" text-anchor="end" font-size="66.67">1.0</text>
<text transform="translate(277.50 1359.0) scale(0.973 1.046)" text-anchor="middle" font-size="66.67">0</text>
<text transform="translate(525.56 1359.0) scale(0.973 1.046)" text-anchor="middle" font-size="66.67">5</text>
<text transform="translate(773.62 1359.0) scale(0.973 1.046)" text-anchor="middle" font-size="66.67">10</text>
<text transform="translate(1021.69 1359.0) scale(0.973 1.046)" text-anchor="middle" font-size="66.67">15</text>
<text transform="translate(1269.75 1359.0) scale(0.973 1.046)" text-anchor="middle" font-size="66.67">20</text>
<text transform="translate(1517.81 1359.0) scale(0.973 1.046)" text-anchor="middle" font-size="66.67">25</text>
<text transform="translate(1765.88 1359.0) scale(0.973 1.046)" text-anchor="middle" font-size="66.67">30</text>
<text transform="translate(2013.94 1359.0) scale(0.973 1.046)" text-anchor="middle" font-size="66.67">35</text>
<text transform="translate(2262.00 1359.0) scale(0.973 1.046)" text-anchor="middle" font-size="66.67">40</text>
<text transform="translate(1270.55 1460.7) scale(0.974 1.04)" text-anchor="middle" font-size="75.0">Energy [keV]</text>
<text transform="translate(78.8 647.8) rotate(-90) scale(0.974 1.04)" text-anchor="middle" font-size="75.0">Quantum Efficiency</text>
<rect x="1789.4" y="74.5" width="443.60" height="371.50" rx="11.67" ry="11.67" fill="#fff" fill-opacity="0.8" stroke="#ccc" stroke-opacity="0.8" stroke-width="8.33"/>
<path d="M1808.3 120.50H1933.6" stroke="#1f77b4" stroke-width="9.2" fill="none"/>
<text transform="translate(1976.4 140.70) scale(0.976 1.044)" font-size="58.33">450 µm</text>
<path d="M1808.3 209.00H1933.6" stroke="#ff7f0e" stroke-width="9.2" fill="none"/>
<text transform="translate(1976.4 229.20) scale(0.976 1.044)" font-size="58.33">800 µm</text>
<path d="M1808.3 297.50H1933.6" stroke="#2ca02c" stroke-width="9.2" fill="none"/>
<text transform="translate(1976.4 317.70) scale(0.976 1.044)" font-size="58.33">1000 µm</text>
<path d="M1808.3 386.00H1933.6" stroke="#d62728" stroke-width="9.2" fill="none"/>
<text transform="translate(1976.4 406.20) scale(0.976 1.044)" font-size="58.33">2000 µm</text>
</svg></body></html>
